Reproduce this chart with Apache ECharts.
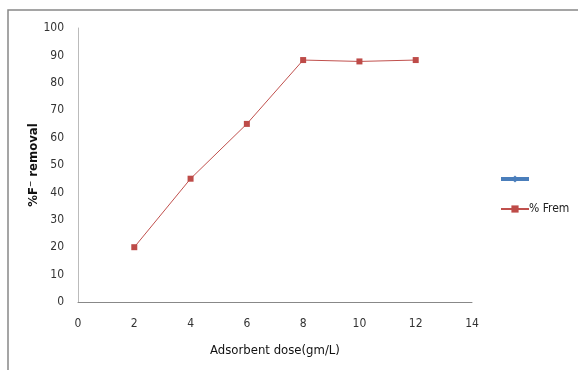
<!DOCTYPE html>
<html lang="en">
<head>
<meta charset="UTF-8">
<script src="https://cdn.jsdelivr.net/npm/echarts@6.0.0/dist/echarts.min.js"></script>
<title>%F removal</title>
<style>
  body { margin: 0; padding: 0; background: #fff; }
  #chart { width: 578px; height: 370px; }
</style>
</head>
<body>
<div id="chart"></div>
<script>
  // adsorbent dose (gm/L) and % F- removal
  const doses = [2, 4, 6, 8, 10, 12];
  const removal = [20, 45, 65, 88.3, 87.8, 88.3];
  const xTicks = [0, 2, 4, 6, 8, 10, 12, 14];
  const yTicks = [0, 10, 20, 30, 40, 50, 60, 70, 80, 90, 100];

  const chart = echarts.init(document.getElementById('chart'));
  const font = '"Liberation Sans Narrow", "DejaVu Sans Condensed", Arial, sans-serif';

  const option = {
    animation: false,
    textStyle: { fontFamily: font },
    graphic: [
      {
        type: 'rect',
        shape: { x: 8, y: 10, width: 600, height: 400 },
        style: { fill: 'none', stroke: '#888', lineWidth: 1.5 }
      }
    ],
    grid: { left: 78, right: 106, top: 28, bottom: 68 },
    legend: {
      orient: 'vertical',
      left: 494,
      top: 168,
      itemGap: 18,
      itemWidth: 28,
      itemHeight: 9,
      textStyle: { fontFamily: font, fontSize: 12, color: '#222', padding: [0, 0, 0, -5] },
      data: [
        { name: ' ', lineStyle: { width: 4 } },
        { name: '% Frem' }
      ]
    },
    xAxis: {
      type: 'value',
      min: xTicks[0],
      max: xTicks[xTicks.length - 1],
      interval: 2,
      name: 'Adsorbent dose(gm/L)',
      nameLocation: 'middle',
      nameGap: 42,
      nameTextStyle: { fontSize: 13, color: '#111', fontFamily: font },
      axisLine: { show: true, lineStyle: { color: '#888' } },
      axisTick: { show: false },
      splitLine: { show: false },
      axisLabel: { margin: 16, fontSize: 12, color: '#333', fontFamily: font }
    },
    yAxis: {
      type: 'value',
      min: yTicks[0],
      max: yTicks[yTicks.length - 1],
      interval: 10,
      name: '%F⁻ removal',
      nameLocation: 'middle',
      nameRotate: 90,
      nameGap: 38,
      nameMoveOverlap: false,
      nameTextStyle: { fontSize: 13, fontWeight: 'bold', color: '#111', fontFamily: font },
      axisLine: { show: true, lineStyle: { color: '#bbb' } },
      axisTick: { show: false },
      splitLine: { show: false },
      axisLabel: { margin: 14, fontSize: 12, color: '#333', fontFamily: font }
    },
    series: [
      {
        name: ' ',
        type: 'line',
        data: [],
        symbol: 'diamond',
        symbolSize: 6,
        lineStyle: { color: '#4a7ebb', width: 4 },
        itemStyle: { color: '#4a7ebb' }
      },
      {
        name: '% Frem',
        type: 'line',
        data: doses.map((d, i) => [d, removal[i]]),
        symbol: 'rect',
        symbolSize: 6,
        lineStyle: { color: '#c0504d', width: 1 },
        itemStyle: { color: '#be4b48' }
      }
    ]
  };

  chart.setOption(option);
</script>
</body>
</html>
